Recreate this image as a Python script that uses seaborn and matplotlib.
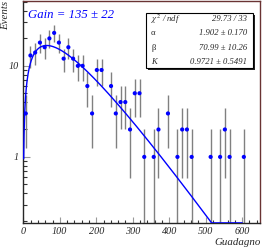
import numpy as np
import seaborn as sns
import matplotlib
matplotlib.use("Agg")
import matplotlib.pyplot as plt
from matplotlib.patches import Rectangle
from matplotlib.ticker import FixedLocator, MultipleLocator, NullFormatter
from math import gamma

# histogram bins (center of each non-empty bin, width 13) and counts
gain_x = [6.5, 19.5, 32.5, 45.5, 58.5, 71.5, 84.5, 97.5, 110.5, 123.5,
          136.5, 149.5, 162.5, 175.5, 188.5, 201.5, 214.5, 240.5, 253.5,
          266.5, 279.5, 292.5, 305.5, 318.5, 331.5, 357.5, 370.5, 396.5,
          422.5, 435.5, 448.5, 461.5, 513.5, 539.5, 552.5, 565.5, 604.5]
counts = [3, 13, 14, 18, 16, 20, 23, 18, 12, 16,
          12, 10, 10, 6, 3, 9, 9, 6, 3,
          4, 4, 2, 5, 5, 1, 1, 2, 3,
          1, 2, 2, 1, 1, 1, 2, 1, 1]

# fit result (gamma distribution)
alpha, beta, K = 1.902, 70.99, 0.9721
fit_area = 3180.0
stat_names = [r"$\chi^{2}$ / ndf", "α", "β", "K"]
stat_values = ["29.73 / 33", "1.902 ± 0.170", "70.99 ± 10.26", "0.9721 ± 0.5491"]

sns.set_style("ticks")
plt.rcParams["font.family"] = ["Liberation Serif", "DejaVu Serif"]
plt.rcParams["mathtext.fontset"] = "stix"

fig = plt.figure(figsize=(2.62, 2.49), dpi=100)
ax = fig.add_axes([0.089, 0.1044, 0.905, 0.89])
ax.set_yscale("log")
ymin, ymax = 0.188, 51.0
ax.set_xlim(0, 650)
ax.set_ylim(ymin, ymax)

cnt = np.array(counts, dtype=float)
err = np.sqrt(cnt)
ax.vlines(gain_x, np.clip(cnt - err, ymin * 0.5, None), cnt + err,
          color="#808080", lw=1.0, zorder=2)
sns.scatterplot(x=gain_x, y=counts, color="#0000ff", s=9, edgecolor="none",
                zorder=3, ax=ax)

xs = np.linspace(1, 600, 600)
pdf = xs ** (alpha - 1) * np.exp(-xs / beta) / (gamma(alpha) * beta ** alpha)
ys = np.maximum(K * fit_area * pdf, ymin * 1.003)
sns.lineplot(x=xs, y=ys, color="#0000ff", lw=1.0, ax=ax, zorder=4)

# axes styling
for s in ["top", "right"]:
    ax.spines[s].set_color("#6a3333")
for s in ax.spines.values():
    s.set_linewidth(1.0)
ax.xaxis.set_major_locator(MultipleLocator(100))
ax.xaxis.set_minor_locator(MultipleLocator(20))
ax.yaxis.set_major_locator(FixedLocator([1, 10]))
ax.yaxis.set_minor_locator(FixedLocator([0.2, 0.3, 0.4, 0.5, 0.6, 0.7, 0.8, 0.9,
                                         2, 3, 4, 5, 6, 7, 8, 9, 20, 30, 40, 50]))
ax.yaxis.set_minor_formatter(NullFormatter())
ax.set_yticklabels(["1", "10"])
ax.tick_params(axis="x", which="major", direction="in", length=4, width=0.8,
               color="#999999", labelsize=7.3, pad=3)
ax.tick_params(axis="x", which="minor", direction="in", length=2.2, width=0.8,
               color="#333333")
ax.tick_params(axis="y", which="major", direction="in", length=5, width=0.8,
               color="#999999", labelsize=7.3, pad=3)
ax.tick_params(axis="y", which="minor", direction="in", length=3, width=0.8,
               color="#333333")
for lab in ax.get_xticklabels() + ax.get_yticklabels():
    lab.set_fontstyle("italic")
ax.set_xlabel("")
ax.set_ylabel("")

fig.text(0.995, 0.025, "Guadagno", ha="right", va="center", fontsize=7.8,
         style="italic")
fig.text(0.02, 0.998, "Events", ha="center", va="top", rotation=90,
         fontsize=7.8, style="italic")
fig.text(0.107, 0.94, "Gain = 135 ± 22", ha="left", va="center", fontsize=9.2,
         style="italic", color="#0000ff")

# statistics box with shadow
bx0, bx1, by0, by1 = 146 / 262, 253 / 262, 1 - 68 / 249, 1 - 13 / 249
fig.patches.append(Rectangle((bx0 + 2 / 262, by0 - 2 / 249), bx1 - bx0, by1 - by0,
                             transform=fig.transFigure, facecolor="#222222",
                             edgecolor="none", zorder=5))
fig.patches.append(Rectangle((bx0, by0), bx1 - bx0, by1 - by0,
                             transform=fig.transFigure, facecolor="white",
                             edgecolor="black", lw=0.8, zorder=6))
row_y = [0.924, 0.867, 0.807, 0.751]
for name, val, yy in zip(stat_names, stat_values, row_y):
    fig.text(151 / 262, yy, name, ha="left", va="center", fontsize=6.2,
             style="italic" if name == "K" or "chi" in name else "normal", zorder=7)
    fig.text(247 / 262, yy, val, ha="right", va="center", fontsize=6.2,
             style="italic", zorder=7)

fig.savefig("out.png", dpi=100)
